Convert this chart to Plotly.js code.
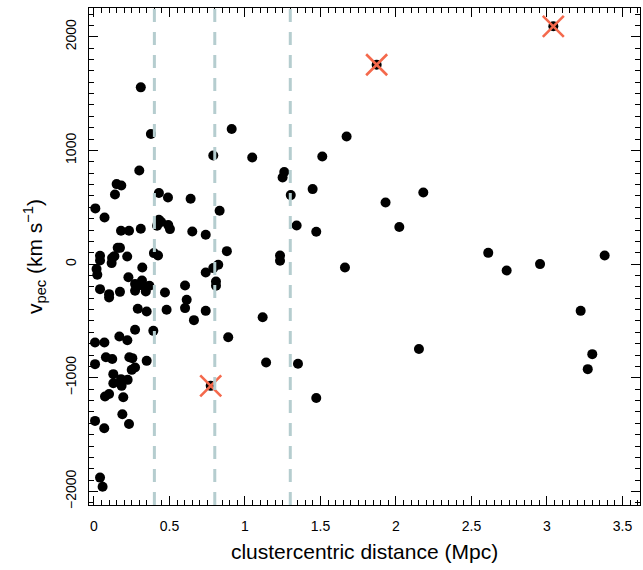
<!DOCTYPE html>
<html>
<head>
<meta charset="utf-8">
<script src="https://cdn.plot.ly/plotly-3.0.1.min.js"></script>
<style>html,body{margin:0;padding:0;background:#fff;}#chart{width:643px;height:570px;}</style>
</head>
<body>
<div id="chart"></div>
<script>
// clustercentric distance (Mpc) of member galaxies
const distMpc = [
  0.31, 0.377, 0.912, 0.79, 1.048, 0.30, 0.150, 0.181, 0.139, 0.009,
  0.070, 0.43, 0.49, 0.64, 0.832, 0.43, 0.445, 0.418, 0.492, 0.503,
  0.179, 0.232, 0.310, 0.651, 0.74, 0.157, 0.172, 0.880, 0.397, 0.424,
  0.040, 0.040, 0.120, 0.135, 0.117, 0.220, 1.232, 1.232, 0.017, 0.022,
  0.32, 0.228, 0.74, 0.79, 0.823, 0.808, 0.808, 0.040, 0.10, 0.10,
  0.172, 0.272, 0.283, 0.318, 0.327, 0.272, 0.343, 0.367, 0.47, 0.603,
  0.614, 0.603, 0.29, 0.349, 0.481, 0.74, 0.662, 1.117, 0.272, 0.393,
  0.889, 0.168, 0.221, 0.007, 0.069, 0.079, 0.121, 0.234, 0.254, 0.007,
  0.349, 0.272, 0.25, 1.14, 0.128, 0.179, 0.223, 0.128, 0.183, 0.10,
  0.073, 0.194, 0.188, 0.007, 0.232, 0.068, 0.040, 0.057, 1.673, 1.512,
  1.26, 1.249, 1.448, 2.181, 1.303, 1.931, 1.342, 2.022, 1.472, 2.611,
  3.382, 2.954, 2.733, 1.662, 3.223, 2.152, 3.30, 3.27, 1.351, 1.472,
  0.773, 1.872, 3.042
];
// peculiar velocity (km/s)
const vPec = [
  1555, 1144, 1188, 956, 938, 824, 704, 692, 613, 490,
  410, 625, 586, 575, 469, 390, 370, 337, 343, 308,
  293, 293, 311, 287, 258, 143, 143, 114, 97, 76,
  73, 32, 53, 70, 9, 67, 76, 29, -44, -94,
  -30, -115, -74, -35, -6, -153, -191, -220, -264, -294,
  -244, -176, -197, -144, -191, -235, -241, -191, -250, -188,
  -314, -387, -393, -417, -402, -411, -493, -467, -578, -587,
  -643, -637, -669, -690, -690, -819, -834, -819, -827, -880,
  -851, -910, -930, -866, -968, -1012, -1018, -1048, -1071, -1142,
  -1165, -1171, -1320, -1379, -1406, -1444, -1878, -1958, 1123, 947,
  810, 762, 660, 630, 607, 542, 340, 326, 284, 99,
  76, 0, -56, -30, -411, -746, -792, -924, -877, -1177,
  -1071, 1754, 2092
];
// flagged galaxies (crossed)
const flaggedDist = [0.773, 1.872, 3.042];
const flaggedV = [-1071, 1754, 2092];
// radial boundaries (Mpc)
const boundaries = [0.4, 0.8, 1.3];

const font = 'Liberation Sans, Arial, Helvetica, sans-serif';

const traces = [
  {
    x: distMpc, y: vPec, type: 'scatter', mode: 'markers',
    marker: {color: '#000000', size: 10, line: {width: 0}},
    hoverinfo: 'skip', showlegend: false
  },
  {
    x: flaggedDist, y: flaggedV, type: 'scatter', mode: 'markers',
    marker: {symbol: 'x-thin-open', color: '#f4694c', size: 21, line: {color: '#f4694c', width: 2.6}},
    hoverinfo: 'skip', showlegend: false
  }
];

const shapes = boundaries.map(b => ({
  type: 'line', xref: 'x', yref: 'paper', x0: b, x1: b, y0: 0, y1: 1,
  line: {color: '#b5cdcf', width: 3, dash: '13px,10px'}, layer: 'above'
}));

const axisCommon = {
  showgrid: false, zeroline: false, showline: true, linecolor: '#000', linewidth: 1,
  mirror: 'allticks', ticks: 'inside', ticklen: 9, tickwidth: 1, tickcolor: '#000',
  tickfont: {family: font, size: 14, color: '#000'}
};

const layout = {
  width: 643, height: 570,
  margin: {l: 89, r: 3, t: 8, b: 65},
  paper_bgcolor: '#fff', plot_bgcolor: '#fff',
  showlegend: false,
  xaxis: Object.assign({}, axisCommon, {
    range: [-0.033, 3.616], dtick: 0.5, tick0: 0,
    ticklabelstandoff: 8,
    minor: {dtick: 0.05, tick0: 0, ticks: 'inside', ticklen: 5, tickcolor: '#000', tickwidth: 1, showgrid: false},
    title: {text: 'clustercentric distance (Mpc)', font: {family: font, size: 21, color: '#000'}, standoff: 11}
  }),
  yaxis: Object.assign({}, axisCommon, {
    range: [-2119, 2253], dtick: 1000, tick0: 0, tickangle: -90,
    ticklabelstandoff: 6,
    minor: {dtick: 100, tick0: 0, ticks: 'inside', ticklen: 5, tickcolor: '#000', tickwidth: 1, showgrid: false},
    title: {text: 'v<sub>pec</sub> (km s<sup>−1</sup>)', font: {family: font, size: 21, color: '#000'}, standoff: 15}
  }),
  shapes: shapes
};

Plotly.newPlot('chart', traces, layout, {staticPlot: true, displayModeBar: false});
</script>
</body>
</html>
